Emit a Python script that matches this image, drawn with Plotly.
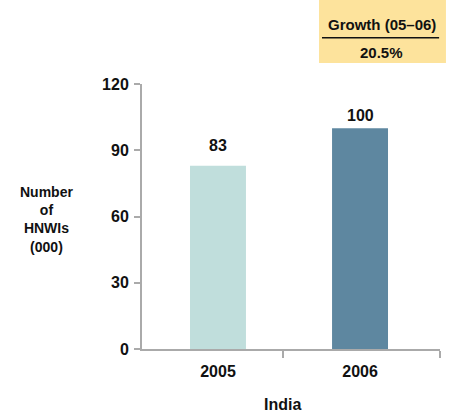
import plotly.graph_objects as go

# Data
years = ["2005", "2006"]
hnwis = [83, 100]
bar_colors = ["#c0dedc", "#5e87a0"]
y_ticks = [0, 30, 60, 90, 120]
growth_label = "Growth (05–06)"
growth_value = "20.5%"

FONT = "Liberation Sans, Arial, sans-serif"
INK = "#111111"
AXIS = "#aaaaaa"

xpos = list(range(len(years)))

fig = go.Figure(
    go.Bar(
        x=xpos,
        y=hnwis,
        width=0.394,
        marker=dict(color=bar_colors, line=dict(width=0)),
        cliponaxis=False,
        hovertext=years,
    )
)

# value labels above the bars
label_shift = [20, 13]
for xi, v, s in zip(xpos, hnwis, label_shift):
    fig.add_annotation(
        x=xi, y=v, text="<b>%d</b>" % v, showarrow=False,
        yanchor="middle", yshift=s,
        font=dict(family=FONT, size=16, color=INK),
    )

fig.update_layout(
    width=451,
    height=419,
    margin=dict(l=142, r=11, t=84, b=70, autoexpand=False),
    paper_bgcolor="white",
    plot_bgcolor="white",
    showlegend=False,
    font=dict(family=FONT, size=15, color=INK),
)

fig.update_xaxes(
    range=[-0.535, 1.563],
    tickvals=xpos,
    ticktext=["<b>%s</b>" % y for y in years],
    showline=True,
    linecolor=AXIS,
    linewidth=2,
    ticks="",
    ticklabelstandoff=7,
    tickfont=dict(family=FONT, size=16, color=INK),
    showgrid=False,
    zeroline=False,
    minor=dict(
        tickvals=[0.458, 1.563],
        ticks="outside",
        ticklen=7,
        tickwidth=2,
        tickcolor=AXIS,
        showgrid=False,
    ),
)

fig.update_yaxes(
    range=[0, 120],
    tickvals=y_ticks,
    ticktext=["<b>%d</b>" % v for v in y_ticks],
    showline=True,
    linecolor=AXIS,
    linewidth=2,
    ticks="outside",
    ticklen=6,
    tickwidth=2,
    tickcolor=AXIS,
    ticklabelstandoff=2,
    tickfont=dict(family=FONT, size=16, color=INK),
    showgrid=False,
    zeroline=False,
)

# Axis titles
fig.add_annotation(
    text="<b>Number<br>of<br>HNWIs<br>(000)</b>",
    xref="paper", yref="paper", x=-0.32, y=0.487,
    xanchor="center", yanchor="middle",
    showarrow=False, align="center",
    font=dict(family=FONT, size=14, color=INK),
)
fig.add_annotation(
    text="<b>India</b>",
    xref="paper", yref="paper", x=0.473, y=-0.211,
    xanchor="center", yanchor="middle",
    showarrow=False,
    font=dict(family=FONT, size=16, color=INK),
)

# Growth box
fig.add_shape(
    type="rect", xref="paper", yref="paper",
    x0=0.594, x1=1.02, y0=1.079, y1=1.317,
    fillcolor="#fde39c", line=dict(width=0), layer="below",
)
fig.add_shape(
    type="line", xref="paper", yref="paper",
    x0=0.604, x1=0.997, y0=1.175, y1=1.175,
    line=dict(color=INK, width=1.5),
)
fig.add_annotation(
    text="<b>" + growth_label + "</b>",
    xref="paper", yref="paper", x=0.804, y=1.223,
    xanchor="center", yanchor="middle",
    showarrow=False,
    font=dict(family=FONT, size=15, color=INK),
)
fig.add_annotation(
    text="<b>" + growth_value + "</b>",
    xref="paper", yref="paper", x=0.804, y=1.117,
    xanchor="center", yanchor="middle",
    showarrow=False,
    font=dict(family=FONT, size=15, color=INK),
)

# the page body has a default 8px margin; drop it so the figure fills the window
fig.write_html(
    "out.html",
    config={"displayModeBar": False},
    post_script="document.body.style.margin='0';",
)
